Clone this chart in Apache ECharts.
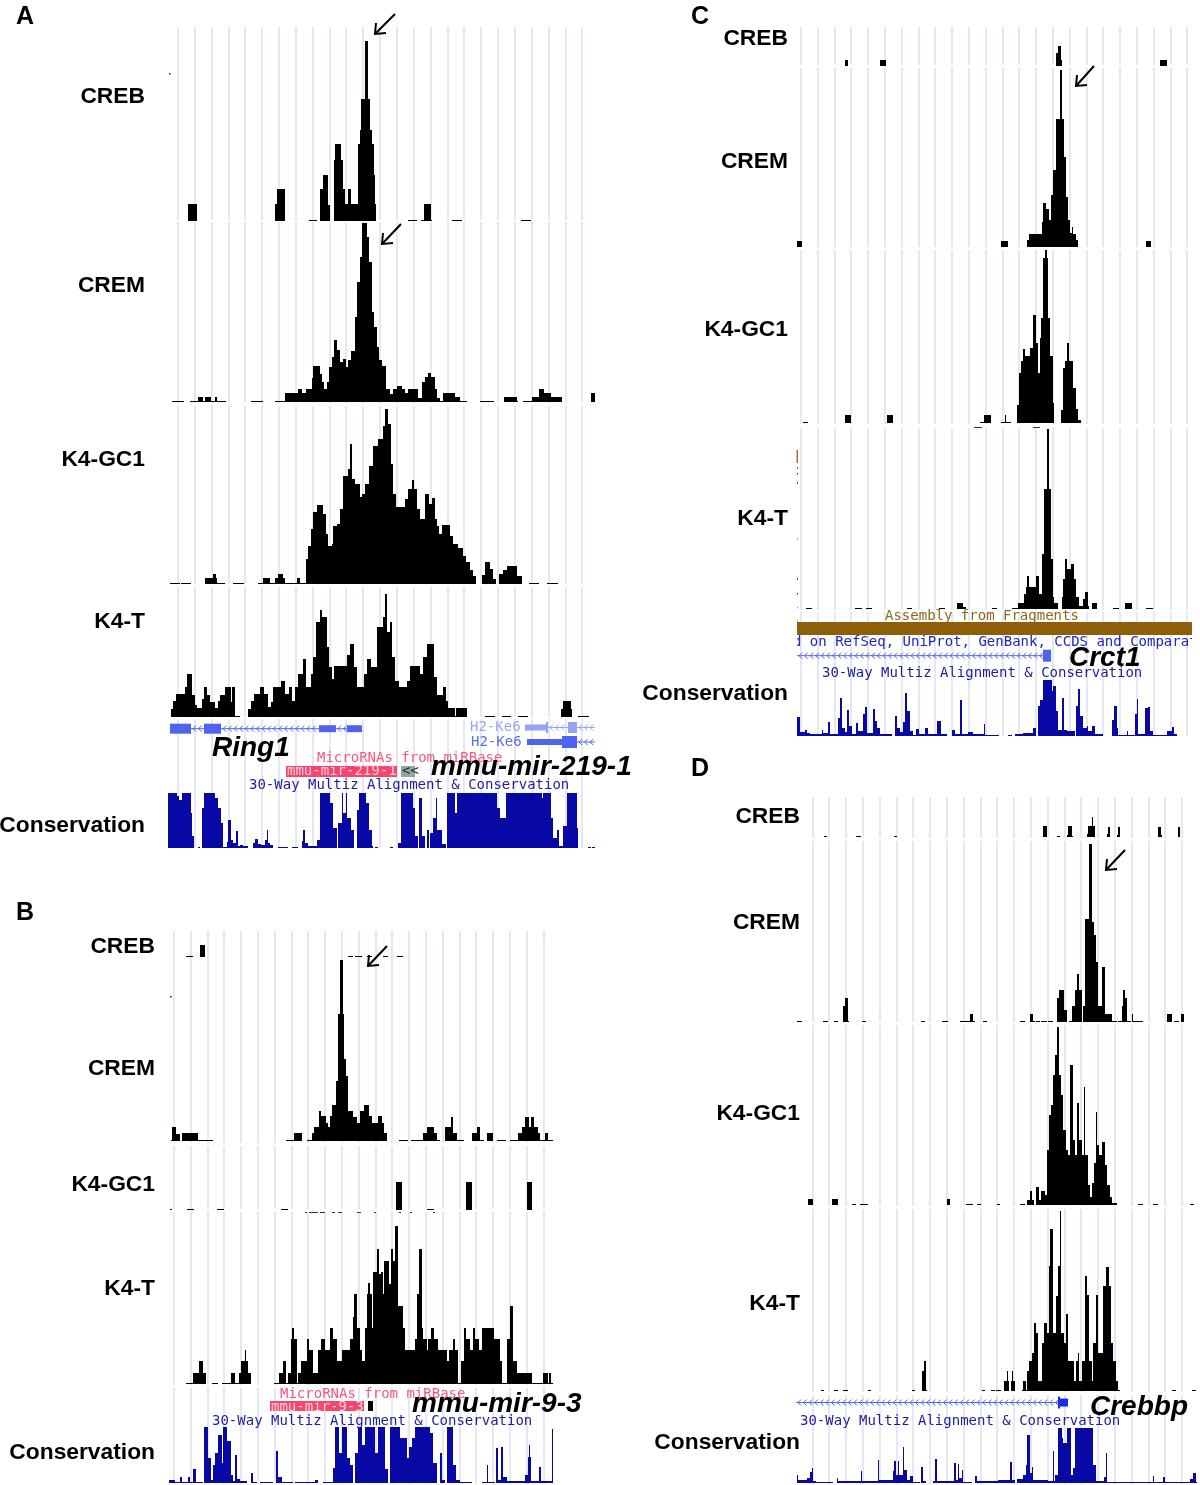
<!DOCTYPE html>
<html><head><meta charset="utf-8">
<style>html,body{margin:0;padding:0;background:#fff}#c{width:1200px;height:1485px}</style>
<script src="https://cdn.jsdelivr.net/npm/echarts@6/dist/echarts.min.js"></script>
</head><body><div id="c"></div>
<script>
// Signal tracks as change points: bin, value, bin, value ... (value holds until the next bin; 0 = no data)
const A_CREB=[28,17,37,0,115,17,117,32,125,0,149,1,157,0,160,32,163,46,168,16,170,0,174,61,175,77,181,61,183,32,185,17,188,32,191,17,198,77,200,91,201,122,205,180,208,122,210,91,212,77,214,46,215,17,216,0,248,1,257,0,261,1,264,17,271,1,272,0,292,1,302,0,361,1,371,0];
const A_CREM=[12,1,24,0,30,1,38,5,43,1,45,5,51,1,55,5,57,1,66,0,91,1,103,0,115,1,125,9,138,13,142,9,146,13,152,24,153,36,160,28,162,20,164,13,167,20,169,35,172,45,174,62,177,52,180,40,183,43,186,35,188,42,191,51,195,85,197,120,200,145,202,179,207,165,209,140,212,90,214,75,217,55,219,42,222,36,226,13,230,8,233,13,237,16,242,13,245,9,248,13,258,4,262,20,265,25,268,29,271,25,275,13,277,4,280,1,283,9,295,5,300,1,307,0,320,1,334,0,344,5,357,1,358,0,363,1,372,5,379,13,384,9,391,5,402,0,431,9,435,0];
const A_GC1=[10,1,20,0,21,1,31,0,45,6,53,10,56,6,57,1,65,0,73,1,84,0,98,1,103,6,110,1,115,6,118,10,123,6,125,1,137,6,140,1,146,25,148,38,151,55,153,72,157,79,163,70,166,50,168,38,172,40,173,58,177,60,180,75,183,108,188,115,190,140,192,105,195,100,200,87,202,90,205,100,209,118,213,138,218,145,223,158,225,175,228,160,231,120,233,90,236,77,245,85,248,95,252,104,254,95,257,75,260,65,265,90,269,80,272,86,275,65,277,58,279,50,282,59,290,48,293,40,298,36,303,28,306,22,310,14,313,8,316,0,322,9,325,22,330,15,333,5,336,0,339,10,343,14,347,18,357,8,362,0,369,1,379,0,387,1,398,0];
const A_T=[11,8,13,16,16,23,25,30,27,43,32,22,35,12,37,9,42,18,44,30,47,22,50,15,55,9,58,16,60,22,65,30,71,15,72,30,75,1,80,0,88,8,91,16,94,23,100,30,104,23,108,10,111,15,113,30,121,36,125,23,129,30,132,16,135,30,138,43,143,58,146,30,151,43,153,60,156,95,160,107,162,100,167,70,169,50,172,38,174,51,187,62,190,73,194,50,197,30,204,43,207,58,211,50,217,90,223,100,225,123,227,85,230,95,232,60,235,36,239,30,247,36,250,51,260,43,263,60,267,73,274,40,277,22,283,30,286,16,288,9,295,1,296,9,307,0,325,1,335,0,342,1,351,0,358,1,368,0,401,8,403,16,411,8,412,0,418,1,429,0];
const A_CONS=[8,55,17,52,19,48,22,55,31,35,32,12,34,0,38,1,40,0,42,40,44,55,55,50,58,40,61,25,63,1,67,6,68,28,71,8,73,5,76,17,78,2,80,3,83,2,88,0,93,5,95,9,98,4,101,3,105,8,107,18,108,5,110,3,113,0,118,1,128,0,132,1,138,0,142,7,143,18,145,5,148,2,157,8,160,55,170,45,173,20,177,0,178,25,182,55,183,35,186,55,187,30,191,18,194,0,197,38,199,55,206,45,209,18,212,2,213,0,215,1,218,0,230,1,233,0,238,5,241,55,253,40,255,12,258,0,259,50,262,12,265,0,267,18,269,0,270,15,273,30,276,50,277,18,282,4,286,0,287,55,295,35,297,55,337,40,340,30,346,55,382,50,383,55,391,30,393,10,397,18,399,2,403,22,407,55,417,20,418,0,428,1,431,0,432,1,435,0];

const B_CREB=[26,1,33,0,40,12,45,0,188,1,193,0,195,1,202,0,207,1,212,0,223,1,228,0,237,1,243,0];
const B_CREM=[11,1,12,14,16,7,20,0,22,8,38,1,53,0,126,1,134,8,142,0,147,1,152,8,154,14,159,30,161,25,166,18,168,14,170,25,172,36,176,60,178,127,180,181,183,127,184,82,186,65,188,30,193,24,197,18,200,30,204,36,209,25,212,18,218,25,222,18,224,8,227,0,239,1,248,0,251,1,263,8,267,14,274,8,277,1,280,0,285,14,291,24,293,8,297,1,304,0,312,8,317,14,320,1,324,0,327,8,333,0,337,1,346,0,350,1,358,8,362,14,365,24,369,14,371,24,374,14,378,8,380,1,385,8,388,1,393,0];
const B_GC1=[10,1,12,0,27,1,34,0,57,1,64,0,121,1,128,0,236,28,242,0,267,1,274,0,306,28,312,0,367,28,372,0];
const B_GC1_LOW=[145,1,147,0,149,1,158,0,160,1,165,0,172,1,175,0,178,1,182,0,197,1,201,0,214,1,216,0,239,1,241,0,250,1,252,0,273,1,275,0];
const B_T=[26,1,33,11,39,23,43,11,46,0,52,1,58,0,62,1,71,11,75,1,79,11,81,23,85,34,86,23,88,11,91,0,114,1,119,11,123,23,126,1,128,11,131,45,132,56,134,45,137,1,138,11,141,23,147,45,149,34,153,11,158,34,161,45,165,34,170,56,173,45,177,23,182,34,190,45,193,67,194,90,197,56,200,34,202,23,205,56,207,90,208,101,210,90,212,56,213,112,217,135,219,110,221,112,223,90,224,123,229,100,231,135,233,123,235,158,238,78,243,56,245,34,255,45,257,90,259,135,262,56,263,45,267,34,268,45,271,56,274,45,278,34,287,23,289,34,293,45,295,34,298,1,301,23,304,56,306,45,310,34,313,56,315,45,319,34,322,56,334,45,340,23,342,1,347,45,350,78,353,23,357,11,372,1,383,11,388,1,389,11,391,1,393,0];
const B_CONS=[9,3,15,1,20,6,22,1,28,6,30,1,33,14,36,1,43,0,44,56,48,25,51,3,53,18,55,30,58,48,62,20,63,56,67,42,71,8,73,2,75,28,77,4,80,2,87,0,91,10,93,1,97,0,100,1,113,0,116,32,118,6,122,1,133,0,135,1,143,0,143,1,155,3,158,0,163,1,173,15,175,56,179,30,182,56,187,25,190,18,193,0,195,30,198,56,202,38,205,56,215,30,218,56,225,14,228,0,230,56,240,45,247,25,249,36,252,45,255,56,270,50,273,20,277,0,280,30,282,3,285,0,287,56,293,18,296,3,300,1,312,0,322,1,327,18,328,1,335,0,336,35,338,3,341,36,343,6,347,2,365,8,368,26,369,38,370,26,371,2,379,16,381,2,392,54,393,0];

const C_CREB=[55,6,58,0,90,6,96,0,266,13,268,20,271,6,272,0,370,6,377,0];
const C_CREM=[7,6,12,0,211,6,218,0,237,7,239,13,252,25,253,44,256,38,259,27,261,52,263,77,266,128,270,177,272,128,274,90,276,50,278,27,280,14,282,20,283,13,286,7,288,0,356,6,361,0];
const C_GC1=[13,1,18,0,55,8,61,0,97,8,103,0,190,1,194,8,201,0,211,1,215,8,216,1,221,0,227,18,229,50,231,62,233,74,235,67,240,75,243,108,246,80,248,50,250,85,251,105,253,165,255,173,257,165,258,105,260,67,263,20,264,0,271,13,273,55,275,62,277,80,279,62,283,35,286,14,288,3,291,0];
const C_GC1_LOW=[184,1,192,0,243,1,250,0];
const C_T=[16,1,22,0,65,1,72,0,76,1,82,0,117,1,122,0,149,1,155,0,167,6,173,2,176,0,202,1,207,0,222,1,228,6,234,15,236,22,237,33,239,22,246,33,249,15,252,55,254,120,257,180,259,120,261,50,263,12,264,6,268,0,272,12,273,30,275,50,277,40,281,45,284,30,286,12,289,3,293,10,295,17,298,3,299,0,302,6,307,0,323,1,329,0,335,6,342,0,356,1,363,0];
const C_CONS=[7,19,10,4,15,6,17,3,20,2,32,6,33,3,38,14,40,2,48,18,50,38,52,8,55,4,57,26,59,10,62,2,66,13,68,5,73,22,75,29,77,3,83,27,85,15,87,8,90,2,102,0,105,20,107,8,110,4,113,14,115,43,117,25,120,5,123,1,126,7,129,2,135,8,138,2,147,15,151,2,157,0,162,6,165,2,170,36,172,2,178,4,183,2,194,12,195,1,209,0,218,1,222,0,225,2,233,3,243,8,246,0,248,30,250,36,253,56,262,45,263,50,266,25,268,6,272,38,274,6,277,5,285,0,286,30,288,47,290,20,293,8,297,10,298,5,302,10,305,2,313,0,322,16,324,30,327,8,328,1,337,5,338,1,345,22,347,37,348,2,355,28,358,29,360,5,363,1,377,5,382,9,384,2,387,0];

const D_CREB=[34,1,37,0,66,1,71,0,104,1,107,0,253,11,257,0,267,1,270,0,277,2,278,11,282,1,283,0,297,3,298,11,302,20,303,11,305,0,317,3,318,10,320,0,327,2,328,10,330,0,368,10,371,2,372,0,388,10,390,0];
const D_CREM=[7,1,12,0,33,1,38,0,44,1,48,0,53,16,55,24,58,1,59,0,72,1,76,0,131,1,135,0,152,1,158,0,170,1,180,8,183,1,185,0,193,1,197,0,230,1,235,0,240,8,243,1,245,0,246,1,250,0,251,1,257,0,258,1,263,0,267,24,269,32,274,12,277,0,279,1,282,16,285,32,287,48,289,32,292,0,293,16,295,103,299,178,302,100,304,87,306,60,308,16,312,55,315,8,322,1,327,0,328,1,332,16,333,32,335,24,337,1,341,0,342,8,343,1,353,0,377,8,382,0,384,1,389,0,391,8,394,0];
const D_GC1=[18,6,23,0,42,6,48,0,62,1,66,0,70,1,78,0,157,6,160,0,176,1,183,0,187,1,191,0,207,1,210,0,230,1,235,0,237,5,240,14,242,5,244,0,246,18,249,5,251,14,255,10,257,55,259,90,261,100,263,130,265,150,267,178,269,130,271,110,273,75,276,55,278,50,280,140,283,65,285,50,287,102,289,65,292,50,294,118,295,50,298,20,300,8,302,22,304,42,306,93,307,60,309,50,312,63,315,40,317,20,320,8,322,2,327,0,348,1,353,0,363,1,368,0,400,1,404,0];
const D_T=[31,1,34,0,44,1,48,0,53,1,58,0,78,1,81,0,122,1,125,0,132,20,134,30,136,1,137,0,192,1,195,0,201,1,205,0,206,1,211,0,214,10,217,20,218,10,219,0,221,10,222,20,223,10,225,0,232,1,233,10,236,1,237,20,239,30,242,38,244,68,246,58,248,10,252,48,254,68,257,58,259,125,260,162,263,58,266,95,268,125,270,180,271,58,274,48,276,77,278,30,284,10,286,30,288,38,289,10,292,30,295,115,297,96,299,30,302,10,303,48,306,96,308,38,313,105,316,124,319,105,321,48,323,30,326,10,328,1,330,0,382,1,386,0,402,1,406,0];
const D_CONS=[7,8,8,3,17,5,20,11,22,15,23,2,26,1,43,0,47,5,48,2,71,12,72,2,88,23,89,3,103,12,104,22,106,8,108,22,109,8,113,36,114,13,117,3,120,7,123,1,130,0,131,16,133,2,136,0,143,2,145,24,147,2,164,20,166,3,168,19,169,5,172,13,173,1,182,0,185,7,187,2,208,3,220,21,222,3,225,0,227,4,233,8,236,18,237,48,240,10,242,16,243,3,258,2,263,32,264,2,265,8,268,55,272,45,273,40,277,55,281,8,283,15,285,55,303,18,306,2,314,6,316,30,317,1,363,7,364,1,373,6,375,1,400,4,403,10,406,1,407,0];

// Annotation rows: start bin, end bin, row, thickness, colour key, kind (0 block, 1 intron)
const A_GENES=[[10,31,28.7,10,0,0],[31,44,28.7,2,0,1],[44,61,28.7,10,0,0],[61,159,28.7,2,0,1],[159,176,28.7,7,0,0],[176,187,28.7,2,0,1],[187,202,28.7,7,0,0],
 [365,386,27.5,6,1,0],[386,388,27.5,11,1,0],[388,408,27.5,2,1,1],[408,417,27.5,11,1,0],[417,435,27.5,2,1,1],
 [367,402,42,6,0,0],[402,417,42,12,0,0],[417,435,42,2,0,1],
 [126,237,71.5,11,2,0],[241,255,71.5,11,3,0]];
const B_GENES=[[110,204,7,10,2,0],[208,213,7,10,4,0]];
const C_GENES=[[7,402,28.5,13,5,0],[7,253,55.7,2,0,1],[253,261,55.7,12,0,0]];
const D_GENES=[[6,268,3,2,0,1],[268,270,3,12,6,0],[270,278,3,8,6,0]];

const trackLabels=['CREB','CREM','K4-GC1','K4-T','Conservation'];
const panelLetters=['A','B','C','D'];

const BLACK='#000',NAVY='#0808a4',GUIDE='#dfe1f6';
const geneColours=['#4f63ee','#97a3f4','#f4466f','#8fa9a2','#000','#8c5f08','#1a2be8'];
const panels=[
 {x0:160,w:440,guide:{first:177.7,step:16.85,n:25},spans:[[27,220],[222,403],[406,584],[587,717],[719,848]],
  tracks:[[A_CREB,27,221,BLACK],[A_CREM,222,402,BLACK],[A_GC1,406,584,BLACK],[A_T,587,717,BLACK],[A_CONS,792,848,NAVY]],
  genes:A_GENES,geneTop:700},
 {x0:160,w:410,guide:{first:173.7,step:16.8,n:23},spans:[[931,1143],[1146,1209],[1212,1385],[1388,1484]],
  tracks:[[B_CREB,931,957,BLACK],[B_CREM,958,1141,BLACK],[B_GC1,1146,1210,BLACK],[B_GC1_LOW,1211,1213,'#333'],[B_T,1214,1384,BLACK],[B_CONS,1427,1483,NAVY]],
  genes:B_GENES,geneTop:1400},
 {x0:790,w:410,guide:{first:800.7,step:16.8,n:24},spans:[[27,65],[68,247],[250,424],[428,610],[612,736]],
  tracks:[[C_CREB,40,66,BLACK],[C_CREM,68,247,BLACK],[C_GC1,249,423,BLACK],[C_GC1_LOW,426,428,'#333'],[C_T,428,609,BLACK],[C_CONS,679,736,NAVY]],
  genes:C_GENES,geneTop:600},
 {x0:790,w:410,guide:{first:812.3,step:16.8,n:23},spans:[[797,838],[841,1022],[1025,1206],[1209,1392],[1395,1484]],
  tracks:[[D_CREB,797,837,BLACK],[D_CREM,841,1022,BLACK],[D_GC1,1025,1205,BLACK],[D_T,1209,1391,BLACK],[D_CONS,1428,1483,NAVY]],
  genes:D_GENES,geneTop:1400}
];

const labelSpots=[
 {right:145,ys:[97,286,460,622,826]},
 {right:155,ys:[947,1069,1185,1289,1453]},
 {right:788,ys:[39,162,330,519,694]},
 {right:800,ys:[817,923,1114,1304,1443]}
];
const letterSpots=[[25,17],[25,913],[700,17],[700,769]];
const arrowTips=[[375,34,395,14],[382,244,401,224],[368,966,387,946],[1076,86,1094,66],[1106,870,1125,850]];
const specks=[[169,73,1.5,1.5,'#222'],[170,996,1.5,1.5,'#222'],[796.5,450,1.5,13,'#9a7a2a'],[797,467,1,1.5,'#2222c8'],[797,473,1,1.5,'#2222c8'],[797,482,1,1.5,'#2222c8'],[797,538,1,1.5,'#99a'],[797,578,1,1.5,'#2222c8'],[797,593,1,1.5,'#2222c8'],[797,607,1,1.5,'#99a'],[797,620,1,1.5,'#99a']];
const masks=[[785,636,12,12],[1192,636,8,12]];

const SANS='"Liberation Sans",Arial,sans-serif',MONO='"DejaVu Sans Mono",monospace';
const monoTexts=[
 ['MicroRNAs from miRBase',317,758,'#f7587a'],
 ['30-Way Multiz Alignment & Conservation',249,785,'#1c1ca0'],
 ['H2-Ke6',470,727,'#9aa6f4'],['H2-Ke6',471,742,'#5a6cf0'],
 ['mmu-mir-219-1',287,771.5,'#ffd0da'],['<<',402,771.5,'#20302c'],
 ['MicroRNAs from miRBase',280,1394,'#f7587a'],
 ['mmu-mir-9-3',271,1407,'#ffd0da'],
 ['30-Way Multiz Alignment & Conservation',212,1421,'#1c1ca0'],
 ['Assembly from Fragments',885,616,'#8c6a1a'],
 ['d on RefSeq, UniProt, GenBank, CCDS and Comparat',793,642,'#2222c8'],
 ['30-Way Multiz Alignment & Conservation',822,673,'#1c1ca0'],
 ['30-Way Multiz Alignment & Conservation',800,1421,'#1c1ca0']
];
const geneNames=[['Ring1',212,748],['mmu-mir-219-1',431,767],['mmu-mir-9-3',412,1404],['Crct1',1069,658],['Crebbp',1090,1407]];

function expand(steps,len){
  const out=new Array(len).fill(null);
  for(let i=0;i<steps.length;i+=2){
    const from=steps[i],to=i+2<steps.length?steps[i+2]:len,v=steps[i+1];
    if(v>0)for(let b=from;b<to&&b<len;b++)out[b]=v;
  }
  return out;
}

const grid=[],xAxis=[],yAxis=[],series=[];
function addGrid(left,top,width,height,x,y){
  grid.push({left,top,width,height,containLabel:false,show:false});
  const g=grid.length-1;
  xAxis.push(Object.assign({gridIndex:g},x));yAxis.push(Object.assign({gridIndex:g},y));
  return g;
}
panels.forEach(p=>{
  const span=(p.guide.n-1)*p.guide.step;
  p.spans.forEach(s=>addGrid(p.guide.first,s[0],span,s[1]-s[0],
    {type:'value',min:0,max:p.guide.n-1,interval:1,axisLine:{show:false},axisTick:{show:false},axisLabel:{show:false},
     splitLine:{show:true,lineStyle:{color:GUIDE,width:1.6}}},
    {type:'value',min:0,max:1,show:false}));
  const bins=Array.from({length:p.w},(_,i)=>i);
  p.tracks.forEach(t=>{
    const g=addGrid(p.x0,t[1],p.w,t[2]-t[1],
      {type:'category',data:bins,show:false,boundaryGap:true},
      {type:'value',min:0,max:t[2]-t[1],show:false});
    series.push({type:'bar',xAxisIndex:g,yAxisIndex:g,barWidth:'100%',barGap:'0%',animation:false,silent:true,
      data:expand(t[0],p.w),itemStyle:{color:t[3]}});
  });
  const g=addGrid(p.x0,p.geneTop,p.w,100,
    {type:'value',min:0,max:p.w,show:false},{type:'value',min:0,max:100,inverse:true,show:false});
  series.push({type:'custom',xAxisIndex:g,yAxisIndex:g,animation:false,silent:true,clip:false,z:3,
    encode:{x:[0,1],y:2},data:p.genes,
    renderItem(params,api){
      const a=api.coord([api.value(0),api.value(2)]),b=api.coord([api.value(1),api.value(2)]);
      const th=api.value(3),col=geneColours[api.value(4)];
      if(api.value(5)===0)return{type:'rect',shape:{x:a[0],y:a[1]-th/2,width:b[0]-a[0],height:th},style:{fill:col}};
      const kids=[{type:'line',shape:{x1:a[0],y1:a[1],x2:b[0],y2:a[1]},style:{stroke:col,lineWidth:1}}];
      for(let x=a[0]+2;x<b[0]-2;x+=5.6)kids.push({type:'polyline',shape:{points:[[x+3,a[1]-3],[x,a[1]],[x+3,a[1]+3]]},style:{stroke:col,fill:null,lineWidth:1}});
      return{type:'group',children:kids};
    }});
});

const g=[];
labelSpots.forEach(s=>s.ys.forEach((y,i)=>g.push({type:'text',z:12,style:{text:trackLabels[i],x:s.right,y,textAlign:'right',textVerticalAlign:'middle',font:'bold 22.8px '+SANS,fill:'#000'}})));
letterSpots.forEach((s,i)=>g.push({type:'text',z:12,style:{text:panelLetters[i],x:s[0],y:s[1],textAlign:'center',textVerticalAlign:'middle',font:'bold 25px '+SANS,fill:'#000'}}));
monoTexts.forEach(t=>g.push({type:'text',z:9,style:{text:t[0],x:t[1],y:t[2],textVerticalAlign:'middle',font:'14px '+MONO,fill:t[3]}}));
masks.forEach(m=>g.push({type:'rect',z:10,shape:{x:m[0],y:m[1],width:m[2],height:m[3]},style:{fill:'#fff'}}));
specks.forEach(s=>g.push({type:'rect',z:10,shape:{x:s[0],y:s[1],width:s[2],height:s[3]},style:{fill:s[4]}}));
geneNames.forEach(t=>g.push({type:'text',z:11,style:{text:t[0],x:t[1],y:t[2],textVerticalAlign:'middle',font:'italic bold 28px '+SANS,fill:'#000'}}));
arrowTips.forEach(a=>{
  g.push({type:'line',z:11,shape:{x1:a[0],y1:a[1],x2:a[2],y2:a[3]},style:{stroke:'#000',lineWidth:2}});
  g.push({type:'polyline',z:11,shape:{points:[[a[0]+1,a[1]-11],[a[0],a[1]],[a[0]+11,a[1]-1]]},style:{stroke:'#000',lineWidth:2,fill:null}});
});

const chart=echarts.init(document.getElementById('c'),null,{renderer:'canvas'});
chart.setOption({animation:false,backgroundColor:'#fff',grid,xAxis,yAxis,series,graphic:{elements:g}});
</script></body></html>
